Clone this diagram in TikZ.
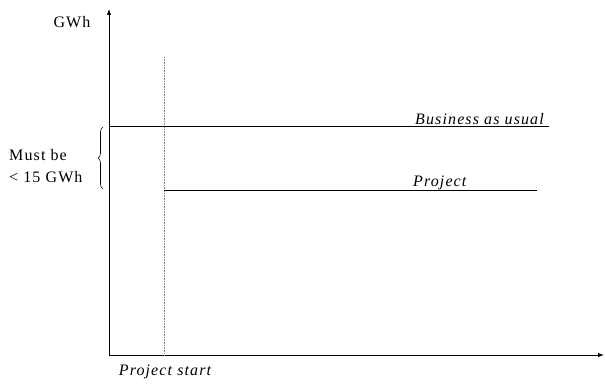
\documentclass[tikz,border=0pt]{standalone}
\usepackage{fontspec}
\setmainfont{Liberation Serif}[LetterSpace=7]
\usetikzlibrary{arrows.meta,decorations.pathreplacing}
\begin{document}
\begin{tikzpicture}[x=1pt,y=1pt,
    txt/.style={inner sep=0pt,font=\fontsize{16}{18}\selectfont},
    itxt/.style={txt,font=\fontsize{16}{18}\selectfont\itshape},
    axis/.style={line width=0.9pt,-{Latex[length=6pt,width=4.5pt]}}]
        \useasboundingbox (0,0) rectangle (605,383);

        % ejes
        \coordinate (O) at (109,28);
        \coordinate (ytip) at (109,374);
        \coordinate (xtip) at (604,28);
        \draw[axis] (O) -- (ytip);
        \draw[axis] (O) -- (xtip);
        \node[txt] (gwh) at (72,361) {GWh};

        % inicio del proyecto
        \coordinate (ps top) at (164,326);
        \coordinate (ps bot) at (164,28);
        \draw[gray, densely dotted, line width=0.6pt] (ps top) -- (ps bot);
        \node[itxt] (pstart) at (165,11) {Project start};

        % escenarios
        \coordinate (bau a) at (109,257);
        \coordinate (bau b) at (549,257);
        \draw[line width=0.8pt] (bau a) -- (bau b);
        \node[itxt, anchor=east] (bau) at (544,264) {Business as usual};

        \coordinate (prj a) at (164,193);
        \coordinate (prj b) at (537,193);
        \draw[line width=0.8pt] (prj a) -- (prj b);
        \node[itxt, anchor=west] (prj) at (413,200) {Project};

        % diferencia
        \coordinate (br top) at (103,256);
        \coordinate (br bot) at (103,194);
        \draw[decorate, decoration={brace, amplitude=5pt}, line width=0.6pt] (br bot) -- (br top);
        \node[txt, anchor=west] (must) at (9,228) {Must be};
        \node[txt, anchor=west] (lim) at (9,206) {< 15 GWh};
      \end{tikzpicture}
\end{document}
